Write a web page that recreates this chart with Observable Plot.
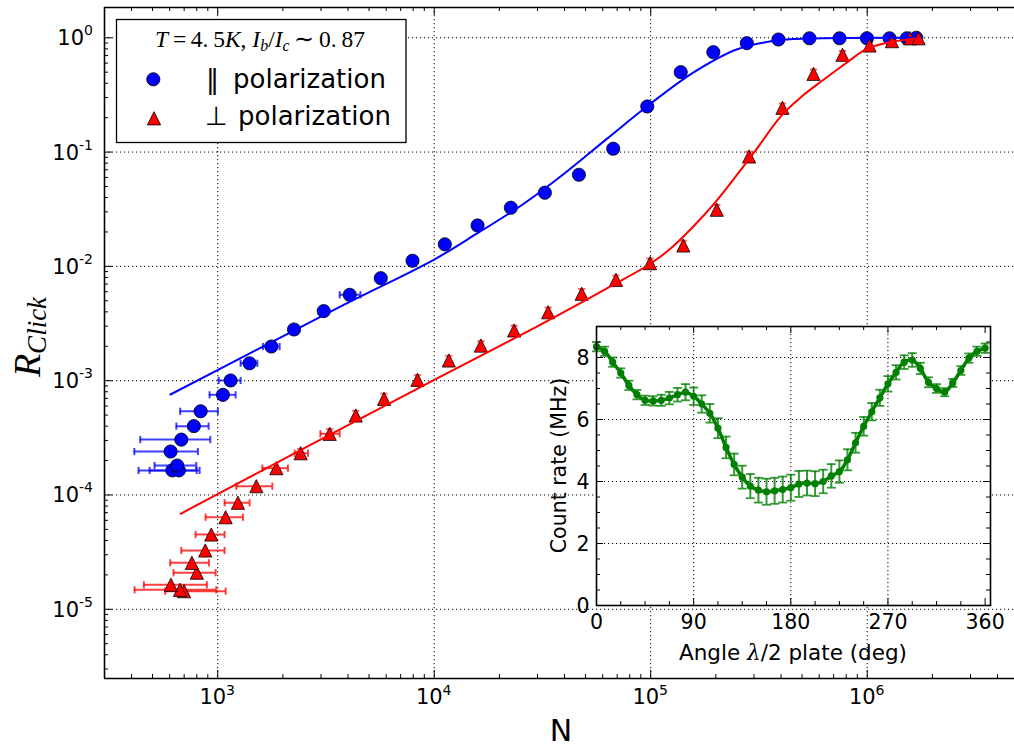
<!DOCTYPE html>
<html><head><meta charset="utf-8">
<script src="https://cdn.jsdelivr.net/npm/d3@7"></script>
<script src="https://cdn.jsdelivr.net/npm/@observablehq/plot@0.6"></script>
<style>
html,body{margin:0;padding:0;background:#fff;overflow:hidden;}
#wrap{position:relative;width:1014px;height:749px;}
#inset{position:absolute;left:530px;top:316px;}
</style></head><body><div id="wrap"><div id="main"></div><div id="inset"></div></div>
<script>
// ---------- data ----------
const blueN = [617, 662, 650, 606, 679, 776, 834, 1057, 1147, 1403, 1769, 2251, 3088, 4072, 5663, 7940, 11200, 15860, 22600, 32450, 46600, 67100, 96400, 137600, 194700, 278000, 389000, 541000, 745000, 997000, 1268000, 1526000, 1685000];
const blueR = [1.64e-4, 1.64e-4, 1.81e-4, 2.40e-4, 3.05e-4, 4.0e-4, 5.40e-4, 7.52e-4, 1.004e-3, 1.42e-3, 1.99e-3, 2.805e-3, 4.06e-3, 5.64e-3, 7.88e-3, 1.12e-2, 1.56e-2, 2.28e-2, 3.26e-2, 4.41e-2, 6.33e-2, 0.107, 0.2506, 0.50, 0.748, 0.897, 0.966, 0.99, 0.99, 0.99, 0.99, 0.99, 1.0];
const blueNlo = [431, 485, 511, 412, 439, 644, 671, 917, 1010, 1276, 1618, null, null, 3661];
const blueNhi = [825, 799, 796, 810, 924, 908, 1002, 1210, 1276, 1524, 1932, null, null, 4563];

const redN = [699, 670, 608, 801, 760, 876, 934, 1088, 1240, 1508, 1866, 2416, 3291, 4341, 5866, 8371, 11680, 16430, 23400, 33600, 48000, 69100, 99300, 141500, 201900, 284800, 406000, 565000, 769000, 1025000, 1301000, 1580000, 1726000];
const redR = [1.44e-5, 1.48e-5, 1.64e-5, 2.09e-5, 2.55e-5, 3.27e-5, 4.51e-5, 6.39e-5, 8.55e-5, 1.194e-4, 1.716e-4, 2.32e-4, 3.43e-4, 4.96e-4, 6.94e-4, 1.018e-3, 1.502e-3, 2.03e-3, 2.75e-3, 3.97e-3, 5.76e-3, 7.63e-3, 1.067e-2, 1.524e-2, 3.13e-2, 9.15e-2, 0.244, 0.484, 0.71, 0.856, 0.934, 0.99, 0.99];
const redNlo = [572, 413, 456, 625, 604, 679, 790, 879, 1076, 1219, 1608, 2267, 2981];
const redNhi = [1088, 985, 891, 978, 911, 1076, 1076, 1308, 1404, 1788, 2111, 2612, 3660];
const redRelErr = [0, 0, 0, 0, 0, 0, 0, 0, 0, 0, 0, 0.09, 0.1, 0.1, 0.11, 0.1, 0.1, 0.09, 0.1, 0.1, 0.1, 0.09, 0.1, 0.1, 0.1, 0.1, 0.09, 0.09, 0.08, 0.06, 0.05, 0.03, 0.03];

const blueFitN = [605, 1585, 3981, 10000, 15850, 25120, 39810, 63100, 100000, 158500, 251200, 398100, 631000, 1722000];
const blueFitR = [7.57e-4, 1.95e-3, 4.79e-3, 1.148e-2, 1.95e-2, 3.39e-2, 6.46e-2, 0.1318, 0.266, 0.501, 0.794, 0.955, 0.991, 1.0];
const redFitN = [674, 2512, 10000, 31620, 63100, 100000, 125900, 158500, 199500, 251200, 316200, 398100, 501200, 631000, 794300, 1000000, 1259000, 1726000];
const redFitR = [6.85e-5, 2.57e-4, 1.016e-3, 3.16e-3, 6.46e-3, 1.059e-2, 1.479e-2, 2.265e-2, 3.67e-2, 6.38e-2, 0.1135, 0.204, 0.309, 0.4315, 0.5957, 0.8035, 0.912, 0.991];

const xTickValues = [1e3, 1e4, 1e5, 1e6];
const xTickExp = ["3", "4", "5", "6"];
const yTickValues = [1, 1e-1, 1e-2, 1e-3, 1e-4, 1e-5];
const yTickExp = ["0", "-1", "-2", "-3", "-4", "-5"];

const insetAngle = [0,7.5,15,22.5,30,37.5,45,52.5,60,67.5,75,82.5,90,97.5,105,112.5,120,127.5,135,142.5,150,157.5,165,172.5,180,187.5,195,202.5,210,217.5,225,232.5,240,247.5,255,262.5,270,277.5,285,292.5,300,307.5,315,322.5,330,337.5,345,352.5,360];
const insetRate = [8.35,8.2,7.85,7.5,7.1,6.8,6.62,6.6,6.62,6.69,6.8,6.88,6.75,6.5,6.2,5.72,5.1,4.55,4.14,3.85,3.72,3.67,3.7,3.74,3.8,3.92,3.95,3.93,4.0,4.18,4.32,4.7,5.25,5.78,6.25,6.7,7.15,7.52,7.85,7.92,7.65,7.2,7.0,6.88,7.18,7.58,7.98,8.2,8.3];
const insetErr = [.15,.15,.15,.15,.15,.15,.15,.15,.18,.2,.22,.26,.28,.28,.3,.32,.35,.35,.37,.39,.4,.42,.42,.42,.42,.42,.4,.4,.38,.38,.36,.34,.32,.3,.28,.26,.25,.23,.22,.22,.18,.16,.14,.13,.13,.14,.15,.15,.15];
const insetXTicks = [0, 90, 180, 270, 360];
const insetYTicks = [0, 2, 4, 6, 8];

// ---------- helpers ----------
const vbar = {draw(ctx, size){const r=Math.sqrt(size/Math.PI); ctx.moveTo(0,-r); ctx.lineTo(0,r);}};
const hbar = {draw(ctx, size){const r=Math.sqrt(size/Math.PI); ctx.moveTo(-r,0); ctx.lineTo(r,0);}};
const tri = {draw(ctx, size){const r=Math.sqrt(size/Math.PI); ctx.moveTo(0,-r); ctx.lineTo(r,r); ctx.lineTo(-r,r); ctx.closePath();}};

const BLUE = "#0000ff", RED = "#ff0000", GREEN = "#008000";
const blue = blueN.map((n,i)=>({N:n, R:blueR[i]}));
const blueErr = blueN.map((n,i)=>({lo:blueNlo[i], hi:blueNhi[i], R:blueR[i]})).filter(d=>d.lo!=null);
const red = redN.map((n,i)=>({N:n, R:redR[i]}));
const redErr = redN.map((n,i)=>({lo:redNlo[i], hi:redNhi[i], R:redR[i]})).filter(d=>d.lo!=null);
const redYErr = redN.map((n,i)=>({N:n, lo:redR[i]*(1-redRelErr[i]), hi:redR[i]*(1+redRelErr[i])})).filter(d=>d.hi>d.lo);
const blueFit = blueFitN.map((n,i)=>({N:n, R:blueFitR[i]}));
const redFit = redFitN.map((n,i)=>({N:n, R:redFitR[i]}));

const xDom = [300, 4.79e6], yDom = [2.48e-6, 1.84];
const mL=104, mR=0, mT=7, mB=71, W=1014, H=749;
const FW = W-mL-mR, FH = H-mT-mB;
const xMinor = [], yMinor = [];
for (let e=2; e<=6; e++) for (let k=2; k<=9; k++){const v=k*Math.pow(10,e); if (v>xDom[0]*1.001 && v<xDom[1]) xMinor.push(v);}
for (let e=-6; e<=0; e++) for (let k=2; k<=9; k++){const v=k*Math.pow(10,e); if (v>yDom[0] && v<yDom[1]) yMinor.push(v);}

const dotted = {stroke:"#000", strokeWidth:1, strokeDasharray:"1.2,2.8"};

const main = Plot.plot({
  width: W, height: H, marginLeft: mL, marginRight: mR, marginTop: mT, marginBottom: mB,
  style: {fontFamily: "DejaVu Sans", background: "transparent", overflow: "visible"},
  x: {type: "log", domain: xDom, axis: null},
  y: {type: "log", domain: yDom, axis: null},
  marks: [
    Plot.ruleX(xTickValues, {x: d=>d, ...dotted}),
    Plot.ruleY(yTickValues, {y: d=>d, ...dotted}),
    // error bars
    Plot.ruleY(blueErr, {y:"R", x1:"lo", x2:"hi", stroke:BLUE, strokeOpacity:0.75, strokeWidth:2}),
    Plot.dot(blueErr, {x:"lo", y:"R", symbol:vbar, r:3.6, stroke:BLUE, strokeOpacity:0.75, strokeWidth:2, fill:"none"}),
    Plot.dot(blueErr, {x:"hi", y:"R", symbol:vbar, r:3.6, stroke:BLUE, strokeOpacity:0.75, strokeWidth:2, fill:"none"}),
    Plot.ruleY(redErr, {y:"R", x1:"lo", x2:"hi", stroke:RED, strokeOpacity:0.75, strokeWidth:2}),
    Plot.dot(redErr, {x:"lo", y:"R", symbol:vbar, r:3.6, stroke:RED, strokeOpacity:0.75, strokeWidth:2, fill:"none"}),
    Plot.dot(redErr, {x:"hi", y:"R", symbol:vbar, r:3.6, stroke:RED, strokeOpacity:0.75, strokeWidth:2, fill:"none"}),
    Plot.ruleX(redYErr, {x:"N", y1:"lo", y2:"hi", stroke:RED, strokeOpacity:0.6, strokeWidth:2}),
    Plot.dot(redYErr, {x:"N", y:"hi", symbol:hbar, r:3.6, stroke:RED, strokeOpacity:0.6, strokeWidth:2, fill:"none"}),
    // markers
    Plot.dot(blue, {x:"N", y:"R", r:6.6, fill:BLUE, stroke:"#000", strokeWidth:0.8}),
    Plot.dot(red, {x:"N", y:"R", symbol:tri, r:6.6, fill:RED, stroke:"#000", strokeWidth:0.8}),
    // fits
    Plot.line(blueFit, {x:"N", y:"R", stroke:BLUE, strokeWidth:2, curve:"catmull-rom"}),
    Plot.line(redFit, {x:"N", y:"R", stroke:RED, strokeWidth:2, curve:"catmull-rom"}),
    // ticks (inward)
    Plot.tickX(xTickValues, {x:d=>d, insetTop: FH-8, stroke:"#000"}),
    Plot.tickX(xTickValues, {x:d=>d, insetBottom: FH-8, stroke:"#000"}),
    Plot.tickX(xMinor, {x:d=>d, insetTop: FH-4, stroke:"#000"}),
    Plot.tickX(xMinor, {x:d=>d, insetBottom: FH-4, stroke:"#000"}),
    Plot.tickY(yTickValues, {y:d=>d, insetRight: FW-8, stroke:"#000"}),
    Plot.tickY(yMinor, {y:d=>d, insetRight: FW-4, stroke:"#000"}),
    // spines
    Plot.ruleX([xDom[0]], {x:d=>d, stroke:"#000", strokeWidth:1.6}),
    Plot.ruleY([yDom[0], yDom[1]], {y:d=>d, stroke:"#000", strokeWidth:1.6})
  ]
});
document.getElementById("main").appendChild(main);

const svg = d3.select(main);
const sx = main.scale("x"), sy = main.scale("y");
// x tick labels
xTickValues.forEach((v,i)=>{
  const t = svg.append("text").attr("x", sx.apply(v)).attr("y", 704).attr("text-anchor","middle")
    .attr("font-family","DejaVu Sans").attr("font-size",21).attr("fill","#000");
  t.append("tspan").text("10");
  t.append("tspan").attr("dy",-9).attr("font-size",14).text(xTickExp[i]);
});
// y tick labels
yTickValues.forEach((v,i)=>{
  const t = svg.append("text").attr("x", 93).attr("y", sy.apply(v)+8).attr("text-anchor","end")
    .attr("font-family","DejaVu Sans").attr("font-size",21).attr("fill","#000");
  t.append("tspan").text("10");
  t.append("tspan").attr("dy",-10).attr("font-size",14).text(yTickExp[i]);
});
// axis labels
svg.append("text").attr("x", 561).attr("y", 741).attr("text-anchor","middle")
  .attr("font-family","DejaVu Sans").attr("font-size",30).attr("fill","#000").text("N");
const yl = svg.append("text").attr("transform","translate(40,337) rotate(-90)").attr("text-anchor","middle")
  .attr("font-family","Liberation Serif").attr("font-style","italic").attr("fill","#000");
yl.append("tspan").attr("font-size",38).text("R");
yl.append("tspan").attr("font-size",27).attr("dy",6).text("Click");

// legend
const lg = svg.append("g").attr("text-anchor","start");
lg.append("rect").attr("x",116.5).attr("y",19.5).attr("width",289.5).attr("height",123)
  .attr("fill","#fff").attr("stroke","#000").attr("stroke-width",1.3);
const tt = lg.append("text").attr("x",260).attr("y",47).attr("text-anchor","middle")
  .attr("font-family","Liberation Serif").attr("font-size",23.5).attr("fill","#000");
tt.append("tspan").attr("font-style","italic").text("T");
tt.append("tspan").text("\u2009=\u20094.\u20095");
tt.append("tspan").attr("font-style","italic").text("K");
tt.append("tspan").text(", ");
tt.append("tspan").attr("font-style","italic").text("I");
tt.append("tspan").attr("font-style","italic").attr("font-size",16).attr("dy",4).text("b");
tt.append("tspan").attr("dy",-4).text("/");
tt.append("tspan").attr("font-style","italic").text("I");
tt.append("tspan").attr("font-style","italic").attr("font-size",16).attr("dy",4).text("c");
tt.append("tspan").attr("dy",-4).text("\u2009\u223C\u20090.\u200987");
lg.append("circle").attr("cx",153.3).attr("cy",79.3).attr("r",6.6).attr("fill",BLUE).attr("stroke","#000").attr("stroke-width",0.8);
lg.append("path").attr("d","M154,111.7L160.6,124.9L147.4,124.9Z").attr("fill",RED).attr("stroke","#000").attr("stroke-width",0.8);
const legText = (x, y, s) => lg.append("text").attr("x",x).attr("y",y).attr("text-anchor","start")
  .attr("font-family","DejaVu Sans").attr("font-size",26).attr("fill","#000").text(s);
legText(206, 87.5, "\u2016");
legText(233, 87.5, "polarization");
legText(205, 125, "\u22A5");
legText(238, 125, "polarization");

// ---------- inset ----------
const inset = insetAngle.map((a,i)=>({a, v:insetRate[i], lo:insetRate[i]-insetErr[i], hi:insetRate[i]+insetErr[i]}));
const iW=484, iH=354, imL=66, imR=24, imT=10, imB=65;
const IFW = iW-imL-imR, IFH = iH-imT-imB;
const iXMinor = [], iYMinor = [];
for (let a=22.5; a<365; a+=22.5) if (a%90!==0) iXMinor.push(a);
for (let v=0.5; v<9; v+=0.5) if (v%2!==0) iYMinor.push(v);

const ins = Plot.plot({
  width: iW, height: iH, marginLeft: imL, marginRight: imR, marginTop: imT, marginBottom: imB,
  style: {fontFamily: "DejaVu Sans", background: "transparent", overflow: "visible"},
  x: {domain: [0, 365], axis: null},
  y: {domain: [0, 9], axis: null},
  marks: [
    Plot.frame({fill:"#fff", stroke:"none"}),
    Plot.ruleX([90,180,270], {x:d=>d, ...dotted}),
    Plot.ruleY([2,4,6,8], {y:d=>d, ...dotted}),
    Plot.ruleX(inset, {x:"a", y1:"lo", y2:"hi", stroke:GREEN, strokeOpacity:0.8, strokeWidth:2}),
    Plot.dot(inset, {x:"a", y:"lo", symbol:hbar, r:4.5, stroke:GREEN, strokeOpacity:0.8, strokeWidth:1.8, fill:"none"}),
    Plot.dot(inset, {x:"a", y:"hi", symbol:hbar, r:4.5, stroke:GREEN, strokeOpacity:0.8, strokeWidth:1.8, fill:"none"}),
    Plot.line(inset, {x:"a", y:"v", stroke:GREEN, strokeWidth:3.5, curve:"catmull-rom"}),
    Plot.dot(inset, {x:"a", y:"v", r:3.6, fill:GREEN}),
    Plot.tickX(insetXTicks, {x:d=>d, insetTop: IFH-7, stroke:"#000"}),
    Plot.tickX(insetXTicks, {x:d=>d, insetBottom: IFH-7, stroke:"#000"}),
    Plot.tickX(iXMinor, {x:d=>d, insetTop: IFH-4, stroke:"#000"}),
    Plot.tickX(iXMinor, {x:d=>d, insetBottom: IFH-4, stroke:"#000"}),
    Plot.tickY(insetYTicks, {y:d=>d, insetRight: IFW-7, stroke:"#000"}),
    Plot.tickY(insetYTicks, {y:d=>d, insetLeft: IFW-7, stroke:"#000"}),
    Plot.tickY(iYMinor, {y:d=>d, insetRight: IFW-4, stroke:"#000"}),
    Plot.tickY(iYMinor, {y:d=>d, insetLeft: IFW-4, stroke:"#000"}),
    Plot.frame({stroke:"#000", strokeWidth:1.6}),
    Plot.text(insetXTicks, {x:d=>d, text:d=>String(d), frameAnchor:"bottom", dy:23, lineAnchor:"bottom", fontSize:20.5, fill:"#000"}),
    Plot.text(insetYTicks, {y:d=>d, text:d=>String(d), frameAnchor:"left", dx:-7, dy:7, textAnchor:"end", lineAnchor:"bottom", fontSize:20.5, fill:"#000"})
  ]
});
document.getElementById("inset").appendChild(ins);
const isvg = d3.select(ins);
const al = isvg.append("text").attr("x", imL+IFW/2).attr("y", 344).attr("text-anchor","middle")
  .attr("font-family","DejaVu Sans").attr("font-size",21.5).attr("fill","#000");
al.append("tspan").text("Angle ");
al.append("tspan").attr("font-family","DejaVu Serif").attr("font-style","italic").text("\u03BB");
al.append("tspan").text("/2 plate (deg)");
isvg.append("text").attr("transform",`translate(36,${imT+IFH/2}) rotate(-90)`).attr("text-anchor","middle")
  .attr("font-family","DejaVu Sans").attr("font-size",20.5).attr("fill","#000").text("Count rate (MHz)");
</script>
</body></html>
